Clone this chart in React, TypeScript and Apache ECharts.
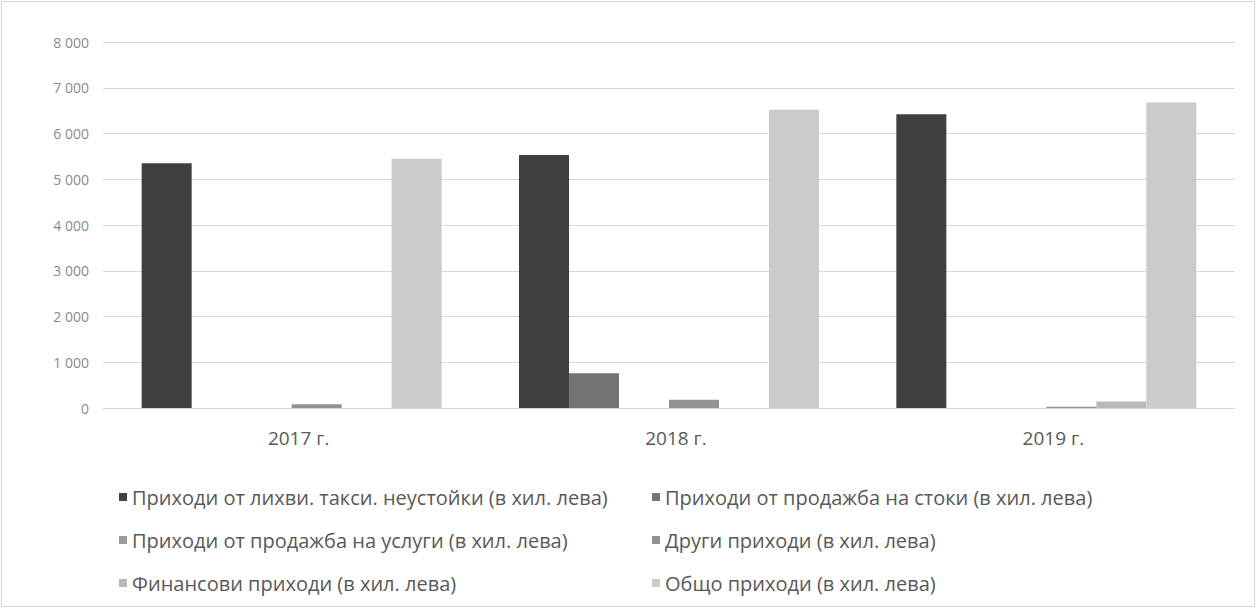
import React, { useEffect, useRef } from "react";
import * as echarts from "echarts";

const categories = ["2017 г.", "2018 г.", "2019 г."];
const seriesNames = [
  "Приходи от лихви. такси. неустойки (в хил. лева)",
  "Приходи от продажба на стоки (в хил. лева)",
  "Приходи от продажба на услуги (в хил. лева)",
  "Други приходи (в хил. лева)",
  "Финансови приходи (в хил. лева)",
  "Общо приходи (в хил. лева)",
];
const interestIncome = [5350, 5530, 6420];
const goodsIncome = [0, 760, 0];
const servicesIncome = [0, 0, 0];
const otherIncome = [80, 180, 30];
const financialIncome = [0, 0, 140];
const totalIncome = [5450, 6520, 6680];
const seriesColors = ["#3f3f3f", "#737373", "#9c9c9c", "#939393", "#b9b9b9", "#cbcbcb"];

const fmt = (v: number) => String(v).replace(/\B(?=(\d{3})+(?!\d))/g, " ");

export default function App() {
  const ref = useRef<HTMLDivElement>(null);
  useEffect(() => {
    if (!ref.current) return;
    const chart = echarts.init(ref.current, null, { renderer: "svg" });
    const values = [interestIncome, goodsIncome, servicesIncome, otherIncome, financialIncome, totalIncome];
    const font = "'Open Sans', 'Noto Sans', sans-serif";
    const legendBase = {
      orient: "vertical" as const,
      itemWidth: 8,
      itemHeight: 8,
      itemGap: 23,
      icon: "rect",
      selectedMode: false,
      textStyle: { fontFamily: font, fontSize: 20, color: "#595959" },
    };
    chart.setOption({
      animation: false,
      backgroundColor: "#ffffff",
      textStyle: { fontFamily: font },
      graphic: [
        {
          type: "rect",
          shape: { x: 1.5, y: 1.5, width: 1253, height: 605 },
          style: { fill: "none", stroke: "#d4d4d4", lineWidth: 1 },
          silent: true,
        },
      ],
      legend: [
        { ...legendBase, left: 114, top: 482, data: [seriesNames[0], seriesNames[2], seriesNames[4]] },
        { ...legendBase, left: 647, top: 482, data: [seriesNames[1], seriesNames[3], seriesNames[5]] },
      ],
      grid: { left: 103, right: 22, top: 42, bottom: 201, containLabel: false },
      xAxis: {
        type: "category",
        data: categories,
        axisLine: { lineStyle: { color: "#d9d9d9" } },
        axisTick: { show: false },
        axisLabel: { fontFamily: font, fontSize: 19, color: "#595959", margin: 20, padding: [0, 0, 0, 14] },
      },
      yAxis: {
        type: "value",
        min: 0,
        max: 8000,
        interval: 1000,
        axisLine: { show: false },
        axisTick: { show: false },
        splitLine: { lineStyle: { color: "#d9d9d9", width: 1 } },
        axisLabel: { fontFamily: font, fontSize: 14, color: "#8a8a8a", margin: 14, formatter: (v: number) => fmt(v) },
      },
      series: seriesNames.map((name, i) => ({
        name,
        type: "bar",
        data: values[i],
        barWidth: 50,
        barGap: "0%",
        itemStyle: { color: seriesColors[i] },
      })),
    });
    return () => chart.dispose();
  }, []);
  return <div ref={ref} style={{ position: "fixed", left: 0, top: 0, width: 1257, height: 609 }} />;
}
